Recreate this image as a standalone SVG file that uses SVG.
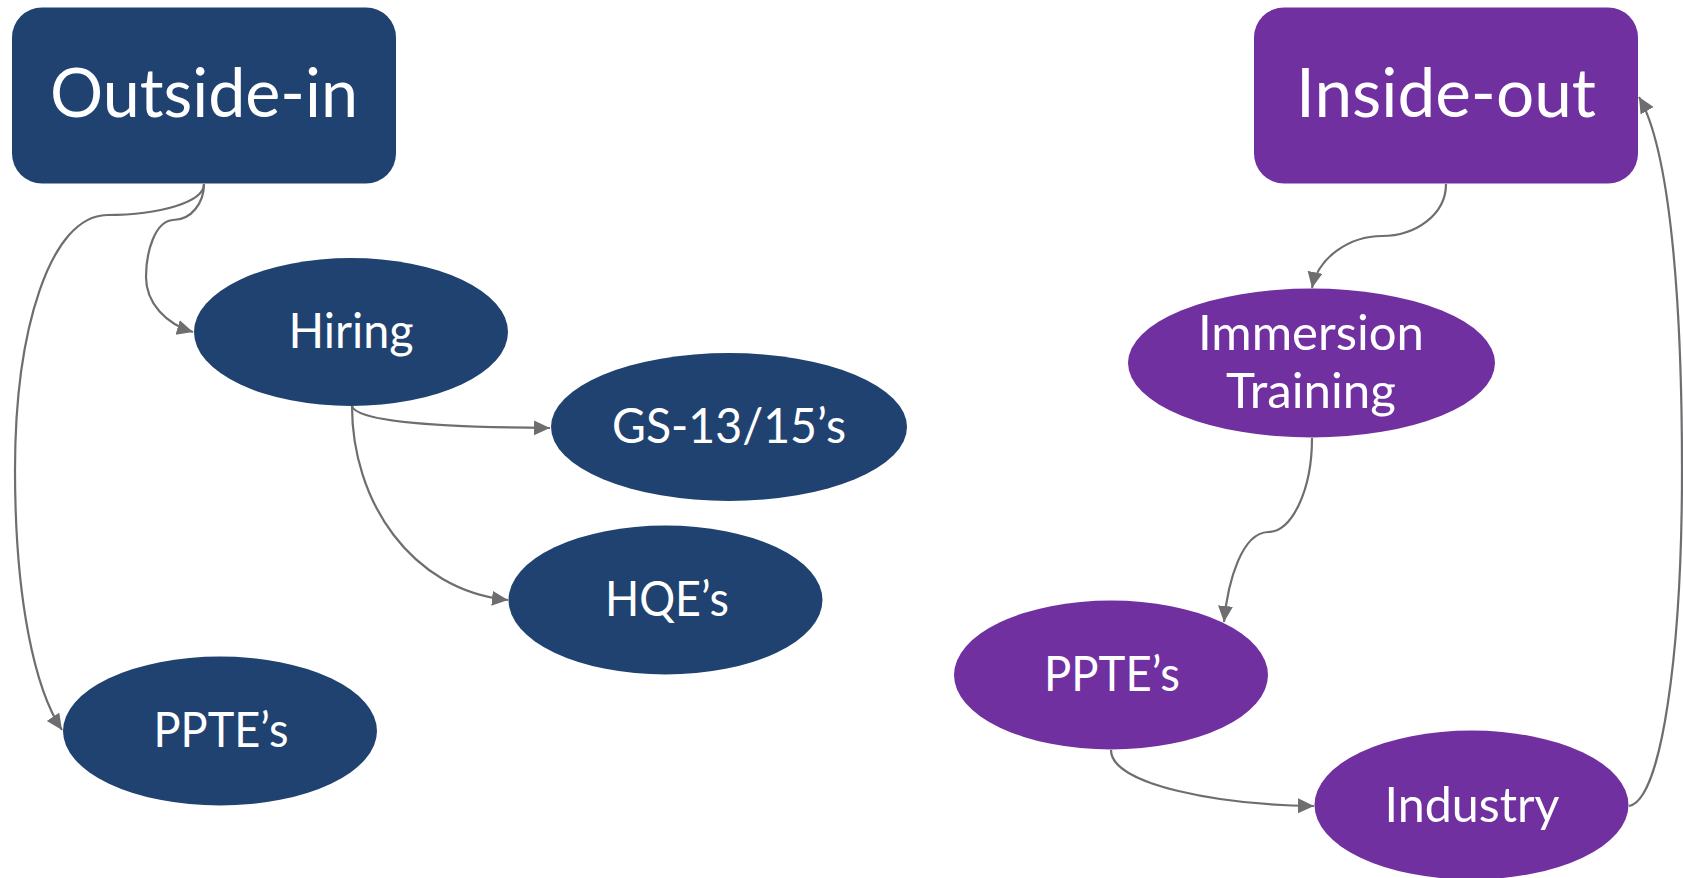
<svg xmlns="http://www.w3.org/2000/svg" width="1683" height="878" viewBox="0 0 1683 878">
  <style>
    .navy { fill: #1F4270; }
    .purple { fill: #7030A0; }
    .lbl { fill: #FFFFFF; font-family: Lato, "Open Sans", "Noto Sans", sans-serif; font-size: 48px; text-anchor: middle; }
    .title { font-size: 67px; }
    .edge { fill: none; stroke: #6E6E70; stroke-width: 2.2; marker-end: url(#arrow); }
  </style>
  <defs>
    <marker id="arrow" markerUnits="userSpaceOnUse" markerWidth="18" markerHeight="16" refX="16" refY="7.5" orient="auto">
      <path d="M0,0 L16,7.5 L0,15 Z" fill="#6E6E70"/>
    </marker>
  </defs>
  <rect width="1683" height="878" fill="#FFFFFF"/>

  <g id="connectors">
    <path class="edge" d="M204,184 C204,202 192,220 173,220 C155,221 146,252 146,277 C146,303 166,324 193,332"/>
    <path class="edge" d="M204,184 C204,202 160,215 107,215 C50,216 15,330 15,470 C15,600 35,690 62,730"/>
    <path class="edge" d="M352,406 C356,420 420,427 550,428"/>
    <path class="edge" d="M352,406 C352,500 410,590 508,600"/>
    <path class="edge" d="M1446,184 C1446,215 1415,236 1382,236 C1350,236 1318,257 1312,288"/>
    <path class="edge" d="M1312,438 C1312,490 1292,532 1268,532 C1242,533 1228,580 1224,622"/>
    <path class="edge" d="M1111,750 C1111,785 1220,805 1314,806"/>
    <path class="edge" d="M1629,806 C1662,800 1682,650 1682,470 C1682,300 1670,150 1639,97"/>
  </g>

  <g id="outside-in">
    <rect class="navy" x="12" y="7.5" width="384" height="176" rx="30" ry="30"/>
    <text class="lbl title" x="204" y="117" textLength="308" lengthAdjust="spacingAndGlyphs">Outside-in</text>
  </g>
  <g id="hiring">
    <ellipse class="navy" cx="351" cy="332" rx="157" ry="74"/>
    <text class="lbl" x="351" y="348" textLength="125" lengthAdjust="spacingAndGlyphs">Hiring</text>
  </g>
  <g id="gs">
    <ellipse class="navy" cx="729" cy="427" rx="178" ry="74"/>
    <text class="lbl" x="729" y="443" textLength="234" lengthAdjust="spacingAndGlyphs">GS-13/15’s</text>
  </g>
  <g id="hqe">
    <ellipse class="navy" cx="665.5" cy="600" rx="157" ry="74.5"/>
    <text class="lbl" x="667" y="616" textLength="124" lengthAdjust="spacingAndGlyphs">HQE’s</text>
  </g>
  <g id="ppte-left">
    <ellipse class="navy" cx="220" cy="731" rx="157" ry="74.5"/>
    <text class="lbl" x="221" y="747" textLength="135" lengthAdjust="spacingAndGlyphs">PPTE’s</text>
  </g>

  <g id="inside-out">
    <rect class="purple" x="1254" y="7.5" width="384" height="176" rx="30" ry="30"/>
    <text class="lbl title" x="1446" y="117" textLength="300" lengthAdjust="spacingAndGlyphs">Inside-out</text>
  </g>
  <g id="immersion">
    <ellipse class="purple" cx="1311.5" cy="363" rx="183.5" ry="74.5"/>
    <text class="lbl" x="1311" y="350" textLength="226" lengthAdjust="spacingAndGlyphs">Immersion</text>
    <text class="lbl" x="1311" y="408" textLength="170" lengthAdjust="spacingAndGlyphs">Training</text>
  </g>
  <g id="ppte-right">
    <ellipse class="purple" cx="1111" cy="675" rx="157" ry="74.5"/>
    <text class="lbl" x="1112" y="691" textLength="136" lengthAdjust="spacingAndGlyphs">PPTE’s</text>
  </g>
  <g id="industry">
    <ellipse class="purple" cx="1471.5" cy="805" rx="157" ry="74.5"/>
    <text class="lbl" x="1472" y="822" textLength="175" lengthAdjust="spacingAndGlyphs">Industry</text>
  </g>
</svg>
